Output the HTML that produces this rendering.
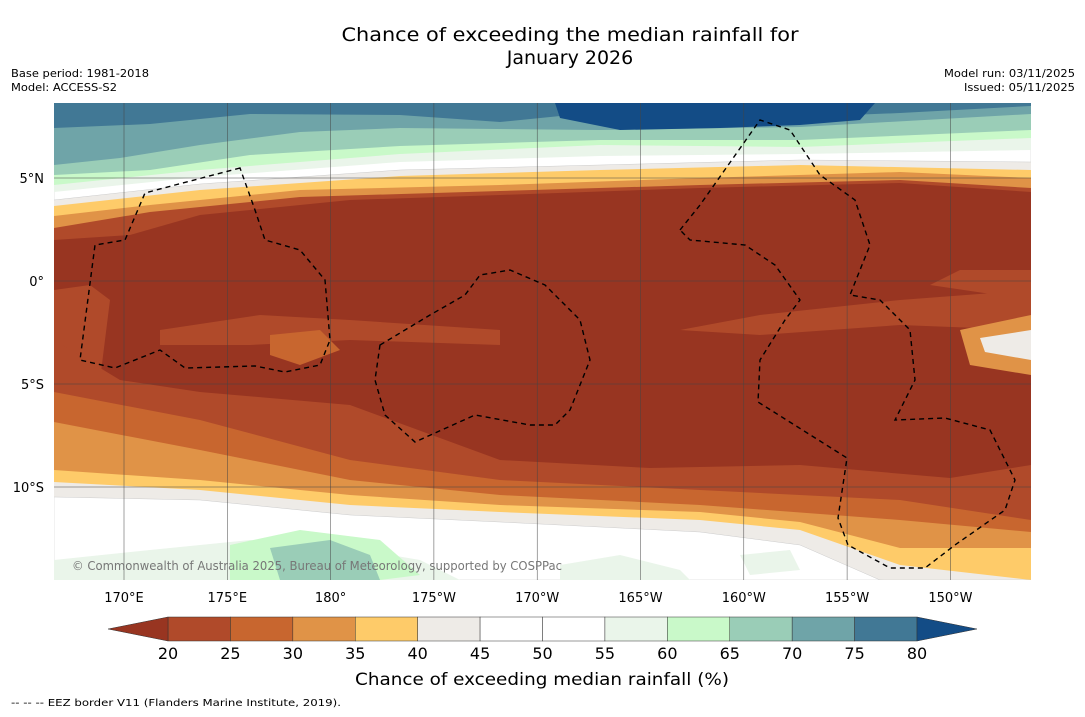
<!DOCTYPE html>
<html><head><meta charset="utf-8"><style>
body{margin:0;background:#fff;width:1085px;height:713px;overflow:hidden;font-family:"DejaVu Sans",sans-serif}
</style></head><body>
<svg width="1085" height="713" xmlns="http://www.w3.org/2000/svg" font-family="DejaVu Sans, Liberation Sans, sans-serif">
<text x="570" y="41" font-size="19" text-anchor="middle" textLength="457" lengthAdjust="spacingAndGlyphs">Chance of exceeding the median rainfall for</text>
<text x="570" y="64" font-size="19" text-anchor="middle">January 2026</text>
<text x="11" y="77" font-size="11" textLength="138" lengthAdjust="spacingAndGlyphs">Base period: 1981-2018</text>
<text x="11" y="91" font-size="11" textLength="106" lengthAdjust="spacingAndGlyphs">Model: ACCESS-S2</text>
<text x="1075" y="77" font-size="11" text-anchor="end" textLength="131" lengthAdjust="spacingAndGlyphs">Model run: 03/11/2025</text>
<text x="1075" y="91" font-size="11" text-anchor="end" textLength="111" lengthAdjust="spacingAndGlyphs">Issued: 05/11/2025</text>
<defs><clipPath id="mc"><rect x="54" y="103" width="977" height="477"/></clipPath></defs>
<g id="map" clip-path="url(#mc)"></g>
<g id="grid"></g>
<g id="eez"></g>
<text x="72" y="570" font-size="12" fill="#777" textLength="490" lengthAdjust="spacingAndGlyphs">© Commonwealth of Australia 2025, Bureau of Meteorology, supported by COSPPac</text>
<g id="axes"></g>
<g id="cbar"></g>
<text x="542" y="685" font-size="17" text-anchor="middle" textLength="374" lengthAdjust="spacingAndGlyphs">Chance of exceeding median rainfall (%)</text>
<text x="11" y="706" font-size="10" textLength="330" lengthAdjust="spacingAndGlyphs">--  --  -- EEZ border V11 (Flanders Marine Institute, 2019).</text>
</svg>
<script>
const levels=[20,25,30,35,40,45,50,55,60,65,70,75,80];
const colors=["#b04a2a","#c8662f","#e09347","#fecb69","#eeebe7","#ffffff","#ffffff","#eaf5ea","#c9f9c9","#9acdb7","#6fa4a8","#417895"];
const lowColor="#983521", highColor="#134c86";
const lonTicks=["170°E","175°E","180°","175°W","170°W","165°W","160°W","155°W","150°W"];
const lonVals=[170,175,180,185,190,195,200,205,210];
const latTicks=["5°N","0°","5°S","10°S"];
const latVals=[5,0,-5,-10];
const NS="http://www.w3.org/2000/svg";
function X(lon){return 124+(lon-170)*20.66;}
function Y(lat){return 281-lat*20.6;}
function el(t,a,p){const e=document.createElementNS(NS,t);for(const k in a)e.setAttribute(k,a[k]);p.appendChild(e);return e;}
const map=document.getElementById('map');
let r=el('rect',{x:54,y:103,width:977,height:477,fill:lowColor},map);

function band(pts,top,fill,name){let d="M54,"+(top?103:580);pts.forEach(p=>d+=" L"+p[0]+","+p[1]);d+=" L1031,"+(top?103:580)+"Z";const p=el('path',{d:d,fill:fill,stroke:fill=="#ffffff"?"#ccc":"none","stroke-width":0.5},map);}
band([[54,240],[130,235],[200,215],[350,200],[500,195],[700,188],[900,183],[1031,192]],1,colors[0],'top-band-25');
band([[54,228],[150,212],[300,197],[500,191],[700,185],[900,180],[1031,188]],1,colors[2],'top-band-35');
band([[54,216],[150,205],[300,190],[500,185],[700,178],[900,172],[1031,178]],1,colors[3],'top-band-40');
band([[54,206],[200,190],[400,176],[600,170],[800,165],[1031,170]],1,colors[4],'top-band-45');
band([[54,200],[200,184],[400,170],[600,165],[800,160],[1031,162]],1,"#ffffff",'top-band-55');
band([[54,192],[200,177],[400,162],[600,156],[800,154],[1031,150]],1,colors[7],'top-band-60');
band([[54,185],[200,170],[400,154],[600,145],[800,147],[1031,138]],1,colors[8],'top-band-65');
band([[54,175],[150,170],[250,155],[400,146],[600,140],[800,140],[1031,130]],1,colors[9],'top-band-70');
band([[54,165],[120,158],[200,145],[300,132],[400,128],[600,130],[800,127],[1031,114]],1,colors[10],'top-band-75');
band([[54,128],[150,124],[250,114],[400,115],[500,122],[600,112],[800,117],[900,113],[1031,106]],1,colors[11],'top-band-80');
let e1=el('path',{d:"M555,103 L560,118 L620,130 L720,128 L800,125 L860,120 L875,103Z",fill:highColor},map);

const mid=[["M54,290 L90,285 L110,300 L100,380 L54,390Z",colors[0]],["M160,330 L260,315 L350,320 L500,330 L500,345 L350,340 L250,345 L160,345Z",colors[0]],["M680,330 L760,315 L900,300 L1031,290 L1031,330 L900,325 L760,335Z",colors[0]],["M270,335 L320,330 L340,350 L300,365 L270,355Z",colors[1]],["M960,330 L1031,315 L1031,375 L970,365Z",colors[2]],["M980,338 L1031,330 L1031,360 L985,352Z",colors[4]],["M1031,270 L960,270 L930,285 L1031,300Z",colors[0]]];
mid.forEach((m,i)=>{const p=el('path',{d:m[0],fill:m[1]},map);});
band([[54,340],[120,380],[200,392],[350,405],[500,460],[650,468],[800,465],[950,478],[1031,465]],0,colors[0],'bottom-band-25');
band([[54,392],[200,420],[350,460],[500,480],[700,490],[900,500],[1031,520]],0,colors[1],'bottom-band-30');
band([[54,422],[200,450],[350,480],[500,495],[700,505],[900,520],[1031,532]],0,colors[2],'bottom-band-35');
band([[54,470],[200,480],[350,495],[500,505],[700,512],[800,522],[900,548],[1031,548]],0,colors[3],'bottom-band-40');
band([[54,482],[200,490],[350,505],[500,512],[700,520],[800,530],[900,565],[1031,580]],0,colors[4],'bottom-band-45');
band([[54,497],[200,500],[350,515],[500,522],[700,532],[800,545],[880,580],[1031,590]],0,"#ffffff",'bottom-band-50');
const bp=[["M54,560 L150,550 L250,540 L350,548 L420,560 L460,580 L54,580Z",colors[7]],["M230,545 L300,530 L380,540 L420,575 L380,580 L230,580Z",colors[8]],["M270,548 L330,540 L370,555 L380,580 L280,580Z",colors[9]],["M560,565 L620,555 L680,570 L690,580 L560,580Z",colors[7]],["M740,555 L790,550 L800,570 L750,575Z",colors[7]]];
bp.forEach((m,i)=>{const p=el('path',{d:m[0],fill:m[1]},map);});
const g=document.getElementById('grid');
lonVals.forEach(v=>{const l=el('line',{x1:X(v),x2:X(v),y1:103,y2:580,stroke:"#444","stroke-width":0.5},g);});
latVals.forEach(v=>{const l=el('line',{x1:54,x2:1031,y1:Y(v),y2:Y(v),stroke:"#444","stroke-width":0.5},g);});
const ax=document.getElementById('axes');
lonTicks.forEach((t,i)=>{const tx=el('text',{x:X(lonVals[i]),y:602,"font-size":13,"text-anchor":"middle"},ax);tx.textContent=t;});
latTicks.forEach((t,i)=>{const tx=el('text',{x:44,y:Y(latVals[i])+5,"font-size":13,"text-anchor":"end"},ax);tx.textContent=t;});
const ez=document.getElementById('eez');
const eezPaths=["M240,168 L175,185 L145,193 L125,240 L95,245 L80,360 L115,368 L160,350 L185,368 L255,366 L285,372 L320,365 L330,340 L325,280 L300,250 L265,240 L255,210 Z",
"M380,345 L430,315 L465,295 L480,275 L510,270 L545,285 L580,320 L590,360 L570,410 L555,425 L530,425 L475,415 L415,442 L385,415 L375,380 Z",
"M680,230 L700,205 L760,120 L790,130 L820,175 L855,200 L870,245 L850,295 L880,300 L910,330 L915,380 L895,420 L945,418 L990,430 L1015,480 L1005,510 L955,545 L925,568 L890,568 L848,545 L838,518 L847,458 L758,402 L760,360 L785,320 L800,300 L775,265 L745,245 L690,240 Z"];
eezPaths.forEach(d=>{const p=el('path',{d:d,fill:"none",stroke:"#000","stroke-width":1.4,"stroke-dasharray":"5,4"},ez);});
const cb=document.getElementById('cbar');
const x0=168,x1=917,w=(x1-x0)/colors.length;
colors.forEach((c,i)=>{const rr=el('rect',{x:x0+i*w,y:617,width:w,height:24,fill:c,stroke:"#333","stroke-width":0.5},cb);});
let lt=el('polygon',{points:"108,629 168,617 168,641",fill:lowColor,stroke:"#333","stroke-width":0.5},cb);
let ht=el('polygon',{points:"977,629 917,617 917,641",fill:highColor,stroke:"#333","stroke-width":0.5},cb);
levels.forEach((v,i)=>{const tx=el('text',{x:x0+i*w,y:659,"font-size":16,"text-anchor":"middle"},cb);tx.textContent=v;});
</script>
</body></html>
